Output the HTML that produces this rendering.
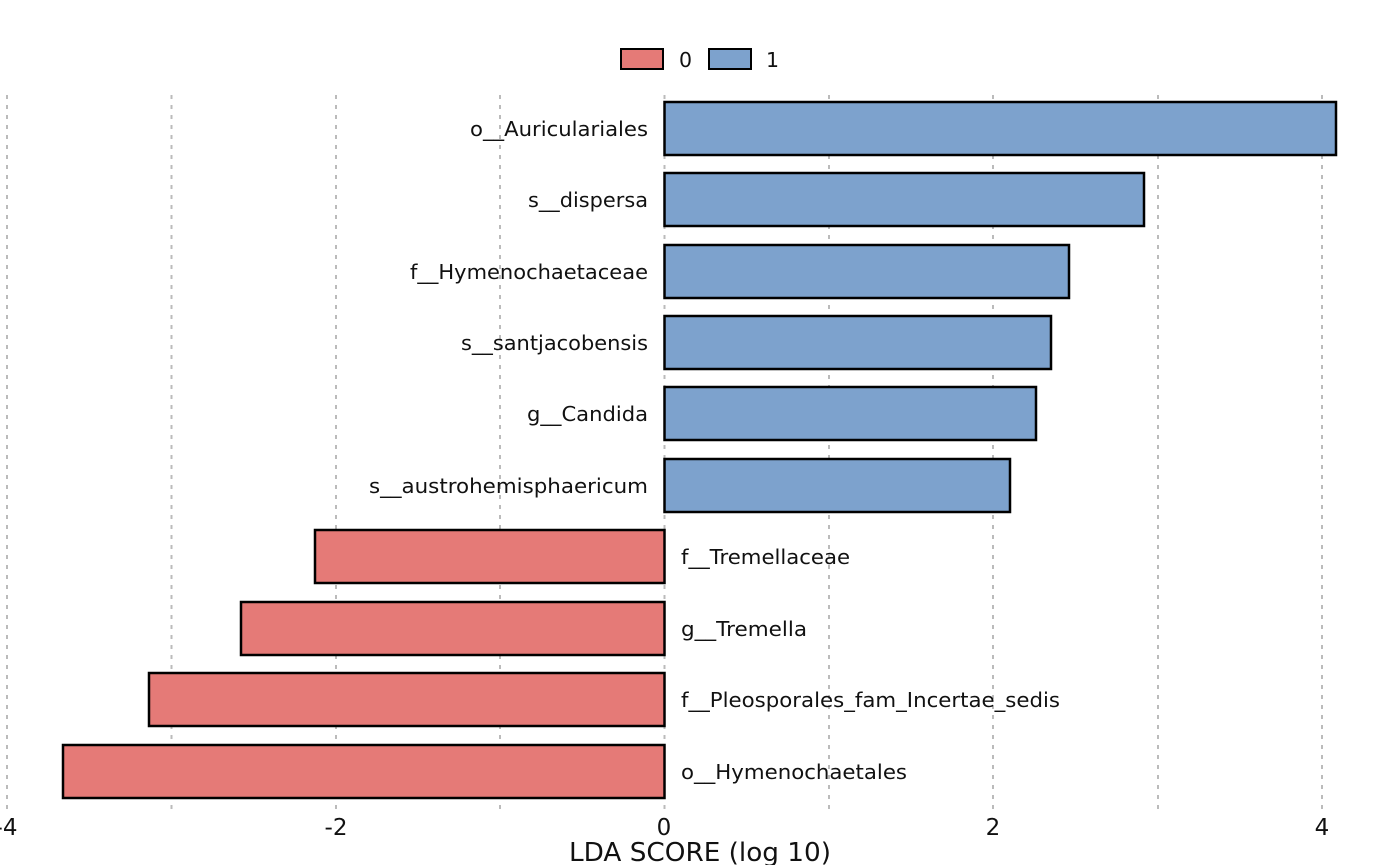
<!DOCTYPE html>
<html><head><style>body{margin:0;background:#fff}svg{display:block}text{font-family:"DejaVu Sans","Liberation Sans",sans-serif;fill:#111}</style></head>
<body>
<svg width="1400" height="865" viewBox="0 0 1400 865">
<g stroke="#bbb" stroke-width="2" stroke-dasharray="4,6">
<line x1="7" y1="95" x2="7" y2="814"/><line x1="171.5" y1="95" x2="171.5" y2="814"/>
<line x1="336" y1="95" x2="336" y2="814"/><line x1="500" y1="95" x2="500" y2="814"/>
<line x1="664.5" y1="95" x2="664.5" y2="814"/><line x1="829" y1="95" x2="829" y2="814"/>
<line x1="993" y1="95" x2="993" y2="814"/><line x1="1158" y1="95" x2="1158" y2="814"/>
<line x1="1322" y1="95" x2="1322" y2="814"/>
</g>
<g stroke="#000" stroke-width="2.5">
<rect x="664.5" y="102" width="671.5" height="53" fill="#7da2cd"/>
<rect x="664.5" y="173" width="479.5" height="53" fill="#7da2cd"/>
<rect x="664.5" y="245" width="404.5" height="53" fill="#7da2cd"/>
<rect x="664.5" y="316" width="386.5" height="53" fill="#7da2cd"/>
<rect x="664.5" y="387" width="371.5" height="53" fill="#7da2cd"/>
<rect x="664.5" y="459" width="345.5" height="53" fill="#7da2cd"/>
<rect x="315" y="530" width="349.5" height="53" fill="#e57a77"/>
<rect x="241" y="602" width="423.5" height="53" fill="#e57a77"/>
<rect x="149" y="673" width="515.5" height="53" fill="#e57a77"/>
<rect x="63" y="745" width="601.5" height="53" fill="#e57a77"/>
<rect x="621" y="49" width="42" height="20" fill="#e57a77" stroke-width="2"/>
<rect x="709" y="49" width="42" height="20" fill="#7da2cd" stroke-width="2"/>
</g>
<g font-size="20.5">
<text x="679" y="67">0</text><text x="766" y="67">1</text>
<g text-anchor="end">
<text x="648" y="136" textLength="178" lengthAdjust="spacingAndGlyphs">o__Auriculariales</text>
<text x="648" y="207" textLength="120" lengthAdjust="spacingAndGlyphs">s__dispersa</text>
<text x="648" y="279" textLength="238" lengthAdjust="spacingAndGlyphs">f__Hymenochaetaceae</text>
<text x="648" y="350" textLength="187" lengthAdjust="spacingAndGlyphs">s__santjacobensis</text>
<text x="648" y="421" textLength="121" lengthAdjust="spacingAndGlyphs">g__Candida</text>
<text x="648" y="493" textLength="279" lengthAdjust="spacingAndGlyphs">s__austrohemisphaericum</text>
</g>
<text x="681" y="564" textLength="169" lengthAdjust="spacingAndGlyphs">f__Tremellaceae</text>
<text x="681" y="636" textLength="126" lengthAdjust="spacingAndGlyphs">g__Tremella</text>
<text x="681" y="707" textLength="379" lengthAdjust="spacingAndGlyphs">f__Pleosporales_fam_Incertae_sedis</text>
<text x="681" y="779" textLength="226" lengthAdjust="spacingAndGlyphs">o__Hymenochaetales</text>
</g>
<g font-size="23" text-anchor="middle">
<text x="6" y="835">-4</text><text x="336" y="835">-2</text><text x="664" y="835">0</text>
<text x="993" y="835">2</text><text x="1322" y="835">4</text>
<text x="700" y="861" font-size="26" textLength="262" lengthAdjust="spacingAndGlyphs">LDA SCORE (log 10)</text>
</g>
</svg>
</body></html>
